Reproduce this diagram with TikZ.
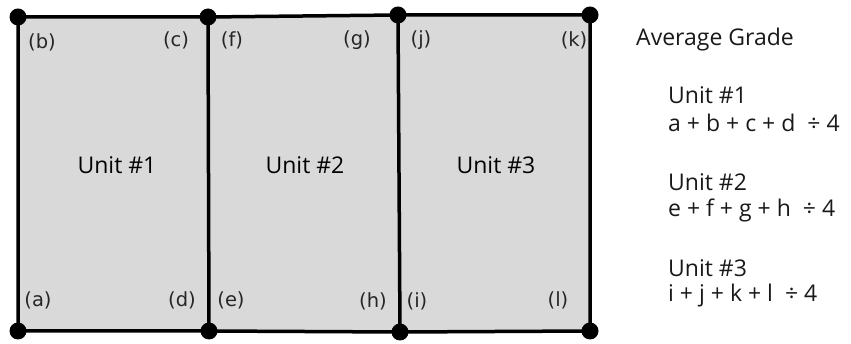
\documentclass[tikz,border=0pt]{standalone}
\usepackage{fontspec}
\setmainfont{Open Sans}
\newfontfamily\lblfont{DejaVu Sans}
\begin{document}
\begin{tikzpicture}[x=1pt,y=-1pt,
  dot/.style={circle,fill=black,inner sep=0pt,minimum size=17pt},
  wall/.style={line width=3.5pt,line cap=round,line join=round},
  unitlbl/.style={font=\fontsize{23}{23}\selectfont},
  corner/.style={font=\lblfont\fontsize{19.5}{19.5}\selectfont,text=black!85,inner sep=0pt},
  side/.style={font=\fontsize{23}{23}\selectfont,anchor=west,inner sep=0pt,text=black!90}]
\useasboundingbox (0,0) rectangle (851,344);
% corner dots
\coordinate (t1) at (18,17); \coordinate (t2) at (208,17);
\coordinate (t3) at (398,15); \coordinate (t4) at (590,15);
\coordinate (b1) at (18,331); \coordinate (b2) at (209,331);
\coordinate (b3) at (400,332); \coordinate (b4) at (590,331);
\fill[black!15] (t1) -- (t4) -- (b4) -- (b1) -- cycle;
\draw[wall] (t1) -- (t2) -- (t3) -- (t4) -- (b4) -- (b3) -- (b2) -- (b1) -- cycle;
\draw[wall] (t2) -- (b2);
\draw[wall] (t3) -- (b3);
\foreach \p in {t1,t2,t3,t4,b1,b2,b3,b4} \node[dot] (d\p) at (\p) {};
% unit names
\node[unitlbl] (u1) at (117,165) {Unit \#1};
\node[unitlbl] (u2) at (305,165) {Unit \#2};
\node[unitlbl] (u3) at (496,165) {Unit \#3};
% corner labels
\node[corner] (lb) at (42,42) {(b)};
\node[corner] (lc) at (176,40) {(c)};
\node[corner] (lf) at (232,40) {(f)};
\node[corner] (lg) at (357,40) {(g)};
\node[corner] (lj) at (421,40) {(j)};
\node[corner] (lk) at (574,40) {(k)};
\node[corner] (la) at (38,300) {(a)};
\node[corner] (ld) at (182,300) {(d)};
\node[corner] (le) at (231,300) {(e)};
\node[corner] (lh) at (373,301) {(h)};
\node[corner] (li) at (417,301) {(i)};
\node[corner] (ll) at (558,300) {(l)};
% side text
\node[side] (avg) at (636,40) {Average Grade};
\node[side] (s1) at (668,95) {Unit \#1};
\node[side] (f1) at (668,123) {a + b + c + d\ \ ÷ 4};
\node[side] (s2) at (668,182) {Unit \#2};
\node[side] (f2) at (668,210) {e + f + g + h\ \ ÷ 4};
\node[side] (s3) at (668,268) {Unit \#3};
\node[side] (f3) at (668,296) {i + j + k + l\ \ ÷ 4};
\end{tikzpicture}
\end{document}
